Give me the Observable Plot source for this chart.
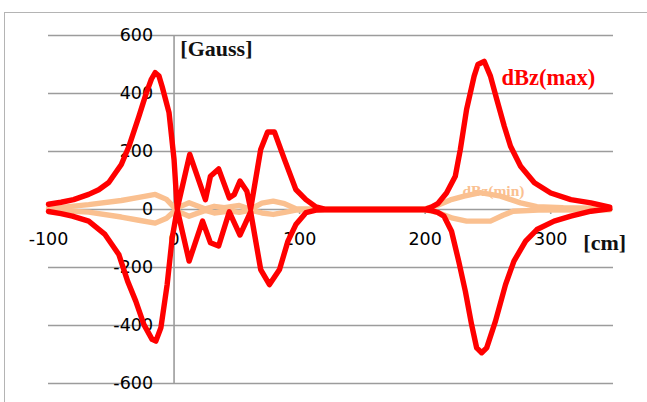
<!DOCTYPE html>
<html>
<head>
<meta charset="utf-8">
<script src="https://cdn.jsdelivr.net/npm/d3@7"></script>
<script src="https://cdn.jsdelivr.net/npm/@observablehq/plot@0.6"></script>
<style>
  html, body { margin: 0; padding: 0; background: #fff; }
  #wrap { position: relative; width: 647px; height: 402px; overflow: hidden; }
  #frame { position: absolute; left: 4px; top: 12px; right: -10px; bottom: -10px;
           border-left: 1.5px solid #b4b4b4; border-top: 1.5px solid #b4b4b4; }
  #wrap svg { position: absolute; left: 0; top: 0; }
</style>
</head>
<body>
<div id="wrap"><div id="frame"></div></div>
<script>
// ---- tick values ----
const xTicks = [-100, 0, 100, 200, 300];
const xTickMarks = [-100, 100, 200, 300];
const yTicks = [-600, -400, -200, 0, 200, 400, 600];

// ---- dBz(max): upper envelope ----
const maxUpX = [-100, -90, -80, -68, -60, -52, -42, -36, -28, -22, -18, -15, -12, -9.5, -4, 0, 2.5,
  12.5, 25, 29, 35.5, 44, 48, 52.5, 58, 61, 69, 74.5, 80, 88, 97, 105, 113, 120,
  200, 205, 210, 217, 224, 228, 233, 239, 242, 247, 252, 257, 263, 268, 276, 287, 300, 316, 332, 347];
const maxUpY = [18, 25, 34, 52, 68, 93, 155, 217, 321, 403, 450, 472, 460, 424, 334, 172, 2,
  190, 34, 115, 140, 40, 52, 98, 63, 2, 207, 267, 267, 172, 69, 34, 9, 1,
  1, 8, 20, 57, 115, 207, 345, 460, 500, 511, 460, 380, 287, 218, 149, 92, 57, 34, 23, 8];

// ---- dBz(max): lower envelope ----
const maxLoX = [-100, -90, -81, -68, -55, -44, -37, -30.5, -24, -17.5, -14.5, -10.5, -5.5, -1.5, 1.3, 2.7,
  12, 22.7, 29, 35.5, 44, 52.5, 61, 69, 76, 84, 90.7, 97, 105, 113, 120,
  200, 205, 210, 215, 221, 226.7, 232, 237, 241, 245, 249, 256, 264, 270.7, 280, 289, 302.7, 316, 332, 347];
const maxLoY = [-7, -14, -23, -40, -86, -155, -247, -316, -397, -448, -454, -408, -259, -98, -29, -3,
  -178, -40, -115, -126, -8, -88, -8, -207, -259, -207, -109, -52, -11, -2, -1,
  -1, -4, -10, -23, -75, -178, -282, -397, -477, -494, -477, -385, -259, -178, -109, -69, -40, -23, -6, 2];

// ---- dBz(min): upper envelope ----
const minUpX = [-100, -68, -42, -28, -15, -6, 1, 12, 25, 32, 40, 52, 61, 70, 79, 88, 97, 110,
  200, 210, 220, 231, 244, 260, 276, 289, 310, 347];
const minUpY = [3, 17, 31, 42, 52, 35, 3, 23, 2, 11, 6, 14, 1, 22, 29, 20, 3, 2,
  2, 15, 33, 46, 58, 46, 23, 10, 6, 4];

// ---- dBz(min): lower envelope ----
const minLoX = [-100, -68, -42, -28, -15, -6, 1, 12, 25, 32, 44, 52, 61, 70, 79, 88, 97, 110,
  200, 210, 222, 233, 252, 262, 270, 290, 347];
const minLoY = [-2, -9, -26, -37, -47, -30, -3, -23, -3, -12, -5, -10, -2, -12, -17, -10, -2, -1,
  -1, -10, -30, -40, -40, -20, -6, -2, -1];

// ---- text labels ----
const unitY = "[Gauss]";
const unitX = "[cm]";
const seriesMax = "dBz(max)";
const seriesMin = "dBz(min)";

const RED = "#ff0000";
const PEACH = "#fac090";
const GRID = "#9c9c9c";

const toRows = (xs, ys) => xs.map((x, i) => ({x, y: ys[i]}));

const tickFont = {fontFamily: "DejaVu Sans", fontSize: 17.5, fill: "#000"};
const serif = {fontFamily: "Liberation Serif", fontWeight: "bold"};
const lineStyle = {x: "x", y: "y", strokeWidth: 5.4, strokeLinejoin: "round", strokeLinecap: "round"};

const chart = Plot.plot({
  width: 647,
  height: 402,
  marginLeft: 48,
  marginRight: 34,
  marginTop: 35,
  marginBottom: 19,
  x: {domain: [-100, 350], axis: null},
  y: {domain: [-600, 600], axis: null},
  style: {background: "transparent", overflow: "visible"},
  marks: [
    Plot.ruleY(yTicks, {stroke: GRID, strokeWidth: 1.6}),
    Plot.ruleX([0], {stroke: GRID, strokeWidth: 1.6}),
    Plot.ruleX(xTickMarks, {y1: 0, y2: -17, stroke: GRID, strokeWidth: 1.6}),
    Plot.text(yTicks, {x: 0, y: d => d, text: d => String(d), dx: -21, textAnchor: "end", lineAnchor: "middle", ...tickFont}),
    Plot.text(xTicks, {x: d => d, y: 0, text: d => String(d), dy: 30, textAnchor: "middle", lineAnchor: "middle", ...tickFont}),
    Plot.text([unitY], {x: 5, y: 528, text: d => d, textAnchor: "start", lineAnchor: "bottom", fontSize: 22, fill: "#111", ...serif}),
    Plot.text([unitX], {x: 326, y: -139, text: d => d, textAnchor: "start", lineAnchor: "bottom", fontSize: 22, fill: "#111", ...serif}),
    Plot.text([seriesMin], {x: 229.7, y: 48, text: d => d, textAnchor: "start", lineAnchor: "bottom", fontSize: 15.5, fill: PEACH, ...serif}),
    Plot.line(toRows(minUpX, minUpY), {...lineStyle, stroke: PEACH}),
    Plot.line(toRows(minLoX, minLoY), {...lineStyle, stroke: PEACH}),
    Plot.line(toRows(maxUpX, maxUpY), {...lineStyle, stroke: RED}),
    Plot.line(toRows(maxLoX, maxLoY), {...lineStyle, stroke: RED}),
    Plot.text([seriesMax], {x: 260.8, y: 431, text: d => d, textAnchor: "start", lineAnchor: "bottom", fontSize: 22.5, fill: RED, ...serif})
  ]
});

document.getElementById("wrap").appendChild(chart);
</script>
</body>
</html>
